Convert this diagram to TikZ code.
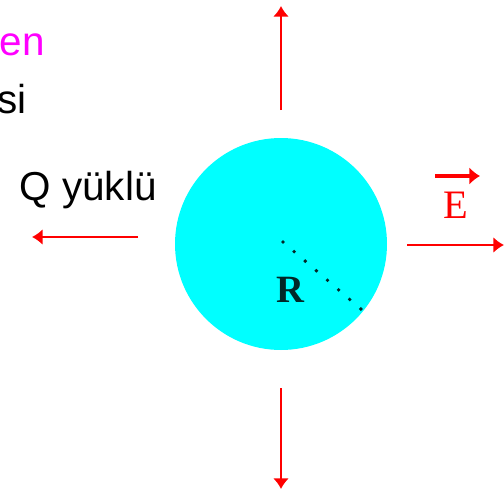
\documentclass[tikz,border=0pt]{standalone}
\usepackage{fontspec}
\setmainfont{Liberation Sans}
\newfontfamily\timesfont{Liberation Serif}
\usetikzlibrary{arrows.meta, positioning}
\definecolor{myred}{RGB}{255,0,0}
\definecolor{mycyan}{RGB}{0,255,255}
\definecolor{mymagenta}{RGB}{255,0,255}
\definecolor{mydark}{RGB}{0,40,40}
\tikzset{
  field/.style={-{Latex[length=6pt,width=9pt]}, line width=1.1pt, color=myred},
  bigtext/.style={inner sep=0pt, font=\fontsize{23}{28}\selectfont},
  serif/.style={inner sep=0pt, font=\timesfont\bfseries\fontsize{22}{26}\selectfont}
}
\begin{document}
\begin{tikzpicture}[x=0.02cm, y=-0.02cm]
  \useasboundingbox (0,0) rectangle (504,494);
  % charged sphere
  \node[circle, fill=mycyan, minimum size=212*0.02cm, inner sep=0pt] (sphere) at (281,244) {};
  \coordinate (centre) at (283,242);
  \coordinate (rim) at (362,310);
  \draw[line width=2.2pt, line cap=round, dash pattern=on 0pt off 8.35pt, color=mydark] (centre) -- (rim);
  \node[serif, anchor=base, color=mydark] (radius) at (290,302) {R};
  % field lines
  \coordinate (topA) at (281,110);  \coordinate (topB) at (281,6);
  \coordinate (botA) at (281,388);  \coordinate (botB) at (281,489);
  \coordinate (leftA) at (138,237); \coordinate (leftB) at (32,237);
  \coordinate (rightA) at (407,245); \coordinate (rightB) at (504,245);
  \draw[field] (topA) -- (topB);
  \draw[field] (botA) -- (botB);
  \draw[field] (leftA) -- (leftB);
  \draw[field] (rightA) -- (rightB);
  % E vector label
  \node[serif, anchor=base, color=myred, font=\timesfont\fontsize{23}{26}\selectfont] (efield) at (456,218) {E};
  \coordinate (vecA) at (435,176); \coordinate (vecB) at (480,176);
  \draw[-{Latex[length=6pt,width=10pt]}, line width=2.6pt, color=myred] (vecA) -- (vecB);
  % texts
  \node[bigtext, anchor=base east, color=mymagenta] (title) at (45,55) {en};
  \node[bigtext, anchor=base east] (subtitle) at (27,113) {si};
  \node[bigtext, anchor=base east] (charge) at (157,200) {Q yüklü};
\end{tikzpicture}
\end{document}
